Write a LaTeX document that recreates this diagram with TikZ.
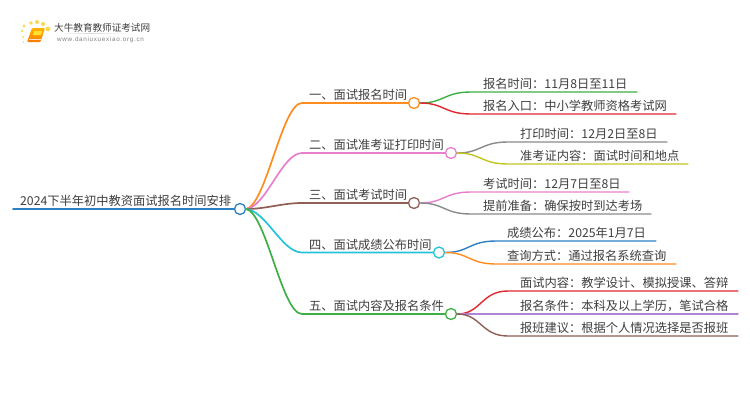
\documentclass[tikz,border=0pt]{standalone}
\usepackage{fontspec}
\setmainfont{Noto Sans CJK SC}
\newfontfamily\logolatin[LetterSpace=11]{Liberation Sans}
\definecolor{cOrange}{HTML}{FF8C1F}
\definecolor{cPink}{HTML}{E87FCE}
\definecolor{cBrown}{HTML}{8F5F55}
\definecolor{cCyan}{HTML}{25C2DA}
\definecolor{cGreen}{HTML}{3FAF45}
\definecolor{cBlue}{HTML}{2C7FC2}
\definecolor{cRed}{HTML}{E0282E}
\definecolor{cGray}{HTML}{8A8A8A}
\definecolor{cOlive}{HTML}{C4C421}
\definecolor{cPurple}{HTML}{AE85D4}
\definecolor{cText}{HTML}{3E3E3E}
\tikzset{
  dot/.style={circle,draw=#1,fill=white,line width=1.3pt,minimum size=11pt,inner sep=0pt},
  wire/.style={draw=#1,line width=1.7pt,line cap=round},
  leafwire/.style={draw=#1,line width=1.4pt,line cap=round},
  lab/.style={anchor=base west,inner sep=0pt,text=cText,font=\fontsize{12.25pt}{14pt}\selectfont},
}
\begin{document}
\begin{tikzpicture}[x=1pt,y=-1pt]
\useasboundingbox (0,0) rectangle (750,410);
% logo
\foreach \x/\y/\r in {24/26/1.6,31/23/1.9,37/22/2,43/24/2,48/29/2.4,22/31/1.3,23/37/1,23.5/42/0.8}
  \fill[orange!45!yellow!70] (\x,\y) circle (\r);
\shade[top color=orange!60!yellow,bottom color=orange!95!red,rounded corners=1pt] (32,28) -- (45,28) -- (40.5,42) -- (27,42) -- cycle;
\fill[orange!30!yellow!80] (34,31) -- (42,31) -- (41,35) -- (33,35) -- cycle;
\draw[orange!20!white,line width=.7pt] (28.5,39.6) -- (40.5,39.6);
\node[anchor=base west,inner sep=0pt,text=cText,font=\fontsize{9.6pt}{11pt}\selectfont] (logoA) at (54,31) {大牛教育教师证考试网};
\node[anchor=base west,inner sep=0pt,text=gray,font=\logolatin\fontsize{6.3pt}{8pt}\selectfont] (logoB) at (57,41.5) {www.daniuxuexiao.org.cn};
\shade[left color=white,right color=white,middle color=gray!30] (58,33) rectangle (125,33.7);
% nodes
\coordinate (rootS) at (13,209);
\node[dot=cBlue] (root) at (240,209) {};
\node[lab] (rootT) at (20,205.5) {2024下半年初中教资面试报名时间安排};
\node[dot=cOrange] (b1) at (414,103) {};
\node[dot=cPink] (b2) at (451,153) {};
\node[dot=cBrown] (b3) at (414,203) {};
\node[dot=cCyan] (b4) at (439,252.5) {};
\node[dot=cGreen] (b5) at (451,314) {};
\node[lab] (b1T) at (309,99.5) {一、面试报名时间};
\node[lab] (b2T) at (309,149.5) {二、面试准考证打印时间};
\node[lab] (b3T) at (309,199.5) {三、面试考试时间};
\node[lab] (b4T) at (309,249) {四、面试成绩公布时间};
\node[lab] (b5T) at (309,310.5) {五、面试内容及报名条件};
\node[lab] (l1T) at (483,88.5) {报名时间：11月8日至11日};
\node[lab] (l2T) at (483,110.5) {报名入口：中小学教师资格考试网};
\node[lab] (l3T) at (520,138.5) {打印时间：12月2日至8日};
\node[lab] (l4T) at (520,160.5) {准考证内容：面试时间和地点};
\node[lab] (l5T) at (483,188.5) {考试时间：12月7日至8日};
\node[lab] (l6T) at (483,210.5) {提前准备：确保按时到达考场};
\node[lab] (l7T) at (507,237.5) {成绩公布：2025年1月7日};
\node[lab] (l8T) at (507,260.5) {查询方式：通过报名系统查询};
\node[lab] (l9T) at (520,287.5) {面试内容：教学设计、模拟授课、答辩};
\node[lab] (l10T) at (520,310.5) {报名条件：本科及以上学历，笔试合格};
\node[lab] (l11T) at (520,332.5) {报班建议：根据个人情况选择是否报班};
\foreach \n/\x/\y in {l1E/637/92,l2E/676/114,l3E/667/142,l4E/688/164,l5E/629/192,l6E/651/214,l7E/656/241,l8E/676/264,l9E/738/291,l10E/738/314,l11E/738/336}
  \coordinate (\n) at (\x,\y);
% connectors
\draw[wire=cBlue] (rootS) -- (root.west);
\draw[wire=cOrange] (root.east) .. controls +(20,-4) and (282,103) .. (302,103) -- (b1.west);
\draw[wire=cPink] (root.east) .. controls +(20,-2) and (282,153) .. (302,153) -- (b2.west);
\draw[wire=cBrown] (root.east) .. controls +(20,0) and (282,203) .. (302,203) -- (b3.west);
\draw[wire=cCyan] (root.east) .. controls +(20,2) and (282,252.5) .. (302,252.5) -- (b4.west);
\draw[wire=cGreen] (root.east) .. controls +(20,4) and (282,314) .. (302,314) -- (b5.west);
\draw[leafwire=cGreen] (b1.east) .. controls +(24,0) and +(-27,0) .. (471,92) -- (l1E);
\draw[leafwire=cRed] (b1.east) .. controls +(24,0) and +(-27,0) .. (471,114) -- (l2E);
\draw[leafwire=cGray] (b2.east) .. controls +(24,0) and +(-27,0) .. (508,142) -- (l3E);
\draw[leafwire=cOlive] (b2.east) .. controls +(24,0) and +(-27,0) .. (508,164) -- (l4E);
\draw[leafwire=cPink] (b3.east) .. controls +(24,0) and +(-27,0) .. (471,192) -- (l5E);
\draw[leafwire=cGray] (b3.east) .. controls +(24,0) and +(-27,0) .. (471,214) -- (l6E);
\draw[leafwire=cBlue] (b4.east) .. controls +(24,0) and +(-27,0) .. (496,241) -- (l7E);
\draw[leafwire=cOrange] (b4.east) .. controls +(24,0) and +(-27,0) .. (496,264) -- (l8E);
\draw[leafwire=cRed] (b5.east) .. controls +(24,0) and +(-27,0) .. (508,291) -- (l9E);
\draw[leafwire=cPurple] (b5.east) -- (l10E);
\draw[leafwire=cBrown] (b5.east) .. controls +(24,0) and +(-27,0) .. (508,336) -- (l11E);
\end{tikzpicture}
\end{document}
